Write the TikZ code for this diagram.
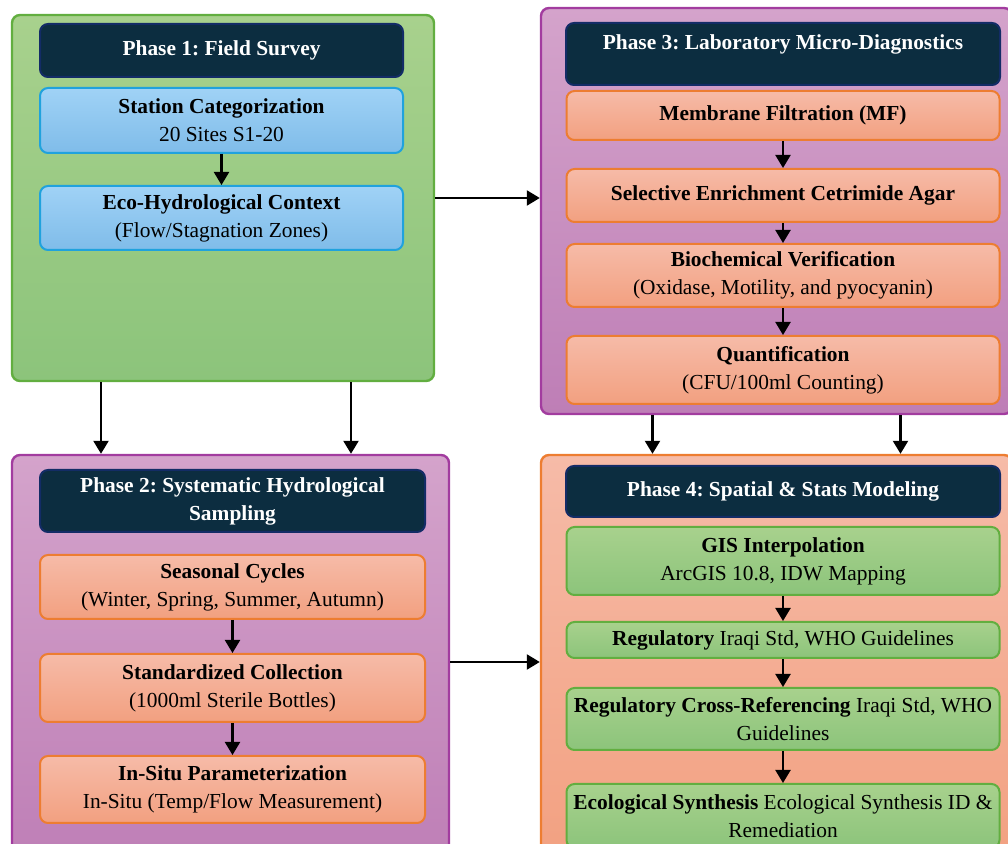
\documentclass[tikz,border=0pt]{standalone}
\usepackage{fontspec}
\setmainfont{Liberation Serif}
\usepackage{tikz}
\usepackage{xcolor}
\usetikzlibrary{shapes.geometric, arrows.meta, positioning}
\definecolor{grntop}{HTML}{A8D18D}
\definecolor{grnbot}{HTML}{8CC47B}
\definecolor{grnline}{HTML}{62AE40}
\definecolor{purtop}{HTML}{D4A3CB}
\definecolor{purbot}{HTML}{BE7EB6}
\definecolor{purline}{HTML}{A23C9F}
\definecolor{saltop}{HTML}{F6BBA8}
\definecolor{salbot}{HTML}{F2A080}
\definecolor{orline}{HTML}{ED7D31}
\definecolor{blutop}{HTML}{A0D2F6}
\definecolor{blubot}{HTML}{7FBCE9}
\definecolor{bluline}{HTML}{20A2DD}
\definecolor{hdfill}{HTML}{0C2D40}
\definecolor{hdline}{HTML}{132C66}
\tikzstyle{panelg} = [rectangle, draw=grnline, line width=1.2pt, rounded corners=4pt, top color=grntop, bottom color=grnbot]
\tikzstyle{panelp} = [rectangle, draw=purline, line width=1.2pt, rounded corners=4pt, top color=purtop, bottom color=purbot]
\tikzstyle{panelo} = [rectangle, draw=orline, line width=1.2pt, rounded corners=4pt, top color=saltop, bottom color=salbot]
\tikzstyle{headbox} = [rectangle, draw=hdline, line width=1pt, rounded corners=4pt, fill=hdfill, text=white, font=\bfseries\fontsize{10.7}{14}\selectfont, align=flush center, inner xsep=3pt]
\tikzstyle{blockbl} = [rectangle, draw=bluline, line width=1pt, rounded corners=4pt, top color=blutop, bottom color=blubot, align=flush center, inner xsep=3pt]
\tikzstyle{blockor} = [rectangle, draw=orline, line width=1pt, rounded corners=4pt, top color=saltop, bottom color=salbot, align=flush center, inner xsep=3pt]
\tikzstyle{blockgr} = [rectangle, draw=grnline, line width=1pt, rounded corners=4pt, top color=grntop, bottom color=grnbot, align=flush center, inner xsep=1pt]
\tikzstyle{line} = [draw, -{Triangle[length=6.5pt,width=7.5pt]}, line width=1.1pt]

\begin{document}
\frenchspacing
\begin{tikzpicture}[x=0.5pt, y=-0.5pt, font=\fontsize{10.7}{14}\selectfont]
\clip (0,0) rectangle (1008,844);

\node [panelg, minimum width=211pt, minimum height=183pt] (P1) at (223,198) {};
\node [panelp, minimum width=235.5pt, minimum height=203pt] (P3) at (776.5,211) {};
\node [panelp, minimum width=218.5pt, minimum height=207pt] (P2) at (230.5,662) {};
\node [panelo, minimum width=235.5pt, minimum height=207pt] (P4) at (776.5,662) {};

% phase 1
\node [headbox, text width=175.5pt, minimum height=26.5pt] (H1) at (221.5,50.5) {Phase 1: Field Survey};
\node [blockbl, text width=175.5pt, minimum height=32.5pt, below=4.5pt of H1] (SC) {\textbf{Station Categorization}\\20 Sites S1-20};
\node [blockbl, text width=175.5pt, minimum height=32pt, below=15.5pt of SC] (EH) {\textbf{Eco-Hydrological Context}\\(Flow/Stagnation Zones)};

% phase 3
\node [headbox, text width=211pt, text height=12pt, text depth=16pt, inner ysep=1.5pt] (H3) at (783,54) {Phase 3: Laboratory Micro-Diagnostics};
\node [blockor, text width=210.5pt, minimum height=24.5pt, below=2pt of H3] (MF) {\textbf{Membrane Filtration (MF)}};
\node [blockor, text width=210.5pt, minimum height=26.5pt, below=13.5pt of MF] (SE) {\textbf{Selective Enrichment Cetrimide Agar}};
\node [blockor, text width=210.5pt, minimum height=31.5pt, below=10pt of SE] (BV) {\textbf{Biochemical Verification}\\(Oxidase, Motility, and pyocyanin)};
\node [blockor, text width=210.5pt, minimum height=34pt, below=13.5pt of BV] (QF) {\textbf{Quantification}\\(CFU/100ml Counting)};

% phase 2
\node [headbox, text width=174.5pt, inner xsep=9pt, minimum height=31pt] (H2) at (232.5,501) {Phase 2: Systematic Hydrological Sampling};
\node [blockor, text width=186.5pt, minimum height=32pt, below=10.5pt of H2] (SCy) {\textbf{Seasonal Cycles}\\(Winter, Spring, Summer, Autumn)};
\node [blockor, text width=186.5pt, minimum height=34pt, below=16.5pt of SCy] (SCo) {\textbf{Standardized Collection}\\(1000ml Sterile Bottles)};
\node [blockor, text width=186.5pt, minimum height=33.5pt, below=16pt of SCo] (IS) {\textbf{In-Situ Parameterization}\\In-Situ (Temp/Flow Measurement)};

% phase 4
\node [headbox, text width=211pt, minimum height=25.5pt] (H4) at (783,491.5) {Phase 4: Spatial \& Stats Modeling};
\node [blockgr, text width=214.5pt, minimum height=34pt, below=4pt of H4] (GI) {\textbf{GIS Interpolation}\\ArcGIS 10.8, IDW Mapping};
\node [blockgr, text width=214.5pt, minimum height=18pt, inner ysep=2pt, below=12.5pt of GI] (RG) {\textbf{Regulatory} Iraqi Std, WHO Guidelines};
\node [blockgr, text width=214.5pt, minimum height=31pt, below=14pt of RG] (RC) {\textbf{Regulatory Cross-Referencing} Iraqi Std, WHO Guidelines};
\node [blockgr, text width=214.5pt, minimum height=32pt, below=16pt of RC] (ES) {\textbf{Ecological Synthesis} Ecological Synthesis ID \& Remediation};

\path [line] (SC) -- (EH);
\path [line] (MF) -- (SE);
\path [line] (SE) -- (BV);
\path [line] (BV) -- (QF);
\path [line] (SCy) -- (SCo);
\path [line] (SCo) -- (IS);
\path [line] (GI) -- (RG);
\path [line] (RG) -- (RC);
\path [line] (RC) -- (ES);

\path [line] (P1.east) -- (P1.east -| P3.west);
\path [line] (P2.east) -- (P2.east -| P4.west);
\path [line] ([xshift=-61pt]P1.south) -- ([xshift=-61pt]P1.south |- P2.north);
\path [line] ([xshift=64pt]P1.south) -- ([xshift=64pt]P1.south |- P2.north);
\path [line] ([xshift=-62pt]P3.south) -- ([xshift=-62pt]P3.south |- P4.north);
\path [line] ([xshift=62pt]P3.south) -- ([xshift=62pt]P3.south |- P4.north);

\end{tikzpicture}
\end{document}
